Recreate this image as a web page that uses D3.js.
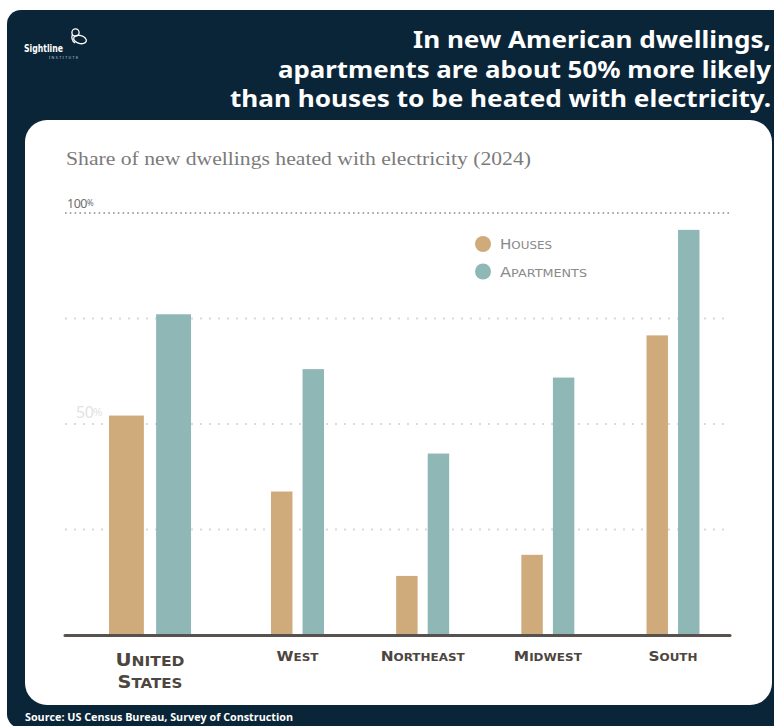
<!DOCTYPE html>
<html>
<head>
<meta charset="utf-8">
<script src="https://cdn.jsdelivr.net/npm/d3@7"></script>
<style>
  html, body { margin: 0; padding: 0; background: #fff; }
  svg { display: block; }
</style>
</head>
<body>
<svg id="chart" width="774" height="726"></svg>
<script>
// Share of new dwellings heated with electricity, 2024 (percent)
const regions = ["United States", "West", "Northeast", "Midwest", "South"];
const series = ["Houses", "Apartments"];
const houses = [52, 34, 14, 19, 71];
const apartments = [76, 63, 43, 61, 96];
const gridTicks = [25, 50, 75, 100];
const labeledTicks = [50, 100];
const titleLines = [
  "In new American dwellings,",
  "apartments are about 50% more likely",
  "than houses to be heated with electricity."
];
const subtitle = "Share of new dwellings heated with electricity (2024)";
const source = "Source: US Census Bureau, Survey of Construction";

const colors = { Houses: "#cfab7c", Apartments: "#8eb7b6" };
const navy = "#0b2538";

const svg = d3.select("#chart");

// Dark frame and white card
svg.append("rect").attr("x", 7).attr("y", 10).attr("width", 800).attr("height", 718)
  .attr("rx", 14).attr("fill", navy);
svg.append("rect").attr("x", 25).attr("y", 120).attr("width", 747).attr("height", 585)
  .attr("rx", 22).attr("fill", "#fff");

// Logo mark
const logo = svg.append("g").attr("fill", "none").attr("stroke", "#fff").attr("stroke-width", 1.3);
logo.append("circle").attr("cx", 75.5).attr("cy", 32.5).attr("r", 3.6);
logo.append("ellipse").attr("cx", 80).attr("cy", 39.5).attr("rx", 6.5).attr("ry", 4)
  .attr("transform", "rotate(15 80 39.5)");
logo.append("path").attr("d", "M72.5 34 Q70.5 40 75 43");
svg.append("text").attr("x", 24).attr("y", 52).attr("fill", "#fff")
  .attr("font-family", "DejaVu Sans, sans-serif").attr("font-weight", 700)
  .attr("font-size", 10.5).attr("textLength", 39)
  .attr("lengthAdjust", "spacingAndGlyphs").text("Sightline");
svg.append("text").attr("x", 49).attr("y", 58.5).attr("fill", "#c9d2da")
  .attr("font-family", "Noto Sans, sans-serif").attr("font-size", 3.6)
  .attr("textLength", 29).text("INSTITUTE");

// Headline
const titleWidths = [358, 493, 541];
titleLines.forEach((line, i) => {
  svg.append("text")
    .attr("x", 771).attr("y", 48 + i * 29.5)
    .attr("text-anchor", "end")
    .attr("fill", "#fff")
    .attr("font-family", "Noto Sans, sans-serif")
    .attr("font-weight", 700)
    .attr("font-size", 23.5)
    .attr("textLength", titleWidths[i])
    .attr("lengthAdjust", "spacingAndGlyphs")
    .text(line);
});

// Subtitle
svg.append("text")
  .attr("x", 66).attr("y", 165)
  .attr("fill", "#7b7b7b")
  .attr("font-family", "Liberation Serif, serif")
  .attr("font-size", 19.5)
  .attr("textLength", 465)
  .attr("lengthAdjust", "spacingAndGlyphs")
  .text(subtitle);

// Scales
const y = d3.scaleLinear().domain([0, 100]).range([635, 213]);
const xRegion = d3.scalePoint().domain(regions.slice(1)).range([297.5, 673]);
const groupCenter = name => name === regions[0] ? xRegion(regions[1]) - 147.5 : xRegion(name);
const innerNational = d3.scaleBand().domain(series).range([-41, 41]).paddingInner(0.26);
const innerRegional = d3.scaleBand().domain(series).range([-26.5, 26.5]).paddingInner(0.32);
const inner = name => name === regions[0] ? innerNational : innerRegional;

const plotLeft = 65, plotRight = 730;

// Gridlines
svg.append("g").selectAll("line").data(gridTicks).join("line")
  .attr("x1", plotLeft).attr("x2", plotRight)
  .attr("y1", d => y(d)).attr("y2", d => y(d))
  .attr("stroke", d => d === 100 ? "#8a8a8a" : "#d9d9d9")
  .attr("stroke-width", d => d === 100 ? 1.6 : 2)
  .attr("stroke-dasharray", d => d === 100 ? "1.6 3.2" : "2 7")
  .attr("stroke-linecap", "butt");

// Tick labels
const tickG = svg.append("g").attr("font-family", "Noto Sans, sans-serif");
labeledTicks.forEach(t => {
  const big = t === 100;
  const txt = tickG.append("text")
    .attr("x", big ? 67 : 76)
    .attr("y", y(t) - (big ? 5 : 6))
    .attr("fill", big ? "#6e6e6e" : "#e3e3e3")
    .attr("font-size", big ? 12.5 : 16)
    .attr("letter-spacing", -0.5);
  txt.append("tspan").text(t);
  txt.append("tspan").attr("font-size", big ? 8 : 11).attr("dy", -2).text("%");
});

// Bars
const rows = regions.map((r, i) => ({ region: r, values: [
  { key: "Houses", value: houses[i] },
  { key: "Apartments", value: apartments[i] }
]}));

const groups = svg.append("g").selectAll("g").data(rows).join("g")
  .attr("transform", d => `translate(${groupCenter(d.region)},0)`);

groups.selectAll("rect").data(d => d.values.map(v => ({ ...v, region: d.region }))).join("rect")
  .attr("x", d => inner(d.region)(d.key))
  .attr("width", d => inner(d.region).bandwidth())
  .attr("y", d => y(d.value))
  .attr("height", d => y(0) - y(d.value))
  .attr("fill", d => colors[d.key]);

// Baseline
svg.append("line")
  .attr("x1", plotLeft).attr("x2", plotRight)
  .attr("y1", y(0) + 0.5).attr("y2", y(0) + 0.5)
  .attr("stroke", "#57524d").attr("stroke-width", 3).attr("stroke-linecap", "round");

// Small-caps text helper: capital initial, smaller capitals for the rest
function smallCaps(sel, word, bigSize, smallSize) {
  const a = sel.append("tspan").attr("font-size", bigSize).text(word[0].toUpperCase());
  sel.append("tspan").attr("font-size", smallSize).text(word.slice(1).toUpperCase());
  return a;
}

// Category labels
const labelFont = "DejaVu Sans, sans-serif";
const labelWidths = { "United": 69, "States": 65, "West": 42, "Northeast": 84, "Midwest": 68, "South": 49 };
rows.forEach(d => {
  const cx = groupCenter(d.region);
  if (d.region === regions[0]) {
    // two stacked lines in one text element
    const t = svg.append("text").attr("y", 666)
      .attr("text-anchor", "middle").attr("fill", "#4d4640")
      .attr("font-family", labelFont).attr("font-weight", 700);
    d.region.split(" ").forEach((w, i) => {
      const line = t.append("tspan").attr("x", cx).attr("y", 666 + i * 22)
        .attr("textLength", labelWidths[w]).attr("lengthAdjust", "spacingAndGlyphs");
      smallCaps(line, w, 18.5, 14.5);
    });
  } else {
    const t = svg.append("text").attr("x", cx).attr("y", 661)
      .attr("text-anchor", "middle").attr("fill", "#4d4640")
      .attr("font-family", labelFont).attr("font-weight", 700)
      .attr("textLength", labelWidths[d.region]).attr("lengthAdjust", "spacingAndGlyphs");
    smallCaps(t, d.region, 14.5, 11.3);
  }
});

// Legend
const legendWidths = { Houses: 52, Apartments: 87 };
const legend = svg.append("g");
series.forEach((s, i) => {
  const ly = 244 + i * 27.5;
  legend.append("circle").attr("cx", 483).attr("cy", ly).attr("r", 8).attr("fill", colors[s]);
  const t = legend.append("text").attr("x", 500).attr("y", ly + 5)
    .attr("fill", "#8a8a8a").attr("font-family", labelFont).attr("font-weight", 400)
    .attr("textLength", legendWidths[s]).attr("lengthAdjust", "spacingAndGlyphs");
  smallCaps(t, s, 14, 11);
});

// Source line
svg.append("text")
  .attr("x", 25).attr("y", 721)
  .attr("fill", "#fff")
  .attr("font-family", "Open Sans, sans-serif")
  .attr("font-weight", 700)
  .attr("font-size", 10.5)
  .attr("textLength", 268)
  .attr("lengthAdjust", "spacingAndGlyphs")
  .text(source);
</script>
</body>
</html>
